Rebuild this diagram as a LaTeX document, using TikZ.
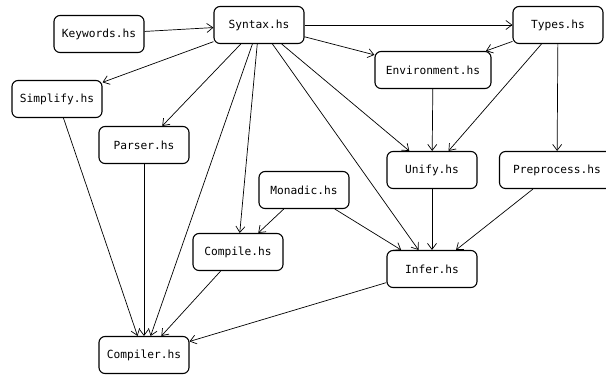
\documentclass[tikz,border=0pt]{standalone}
\usepackage{fontspec}
\setmonofont{DejaVu Sans Mono}
\usetikzlibrary{arrows.meta}

\begin{document}
\begin{tikzpicture}[x=1pt,y=-1pt,
  mod/.style={draw,line width=1.1pt,rounded corners=6pt,minimum width=90pt,minimum height=37pt,inner xsep=6pt,font=\ttfamily\fontsize{11.2}{13}\selectfont},
  dep/.style={-{Straight Barb[length=6pt,width=9pt]},line width=.7pt}]
\useasboundingbox (0,0) rectangle (606,376);
%
\node[mod] (key) at (99,34) {Keywords.hs};
\node[mod] (syn) at (259,25) {Syntax.hs};
\node[mod] (typ) at (558,25) {Types.hs};
\node[mod,minimum width=116pt] (env) at (433,70) {Environment.hs};
\node[mod] (sim) at (57,99) {Simplify.hs};
\node[mod] (par) at (144,145) {Parser.hs};
\node[mod] (uni) at (432,170) {Unify.hs};
\node[mod,minimum width=115pt] (pre) at (557,170) {Preprocess.hs};
\node[mod] (mon) at (304,190) {Monadic.hs};
\node[mod] (cpl) at (238,252) {Compile.hs};
\node[mod] (inf) at (432,269) {Infer.hs};
\node[mod] (cpr) at (144,355) {Compiler.hs};
%
\draw[dep] (key)--(syn);
\draw[dep] (syn)--(typ);
\draw[dep] (syn)--(env);
\draw[dep] (syn)--(sim);
\draw[dep] (syn)--(par);
\draw[dep] (syn)--(uni);
\draw[dep] (syn)--(inf);
\draw[dep] (syn)--(cpl);
\draw[dep] (syn)--(cpr);
\draw[dep] (typ)--(env);
\draw[dep] (typ)--(uni);
\draw[dep] (typ)--(pre);
\draw[dep] (env)--(uni);
\draw[dep] (sim)--(cpr);
\draw[dep] (par)--(cpr);
\draw[dep] (mon)--(cpl);
\draw[dep] (mon)--(inf);
\draw[dep] (uni)--(inf);
\draw[dep] (pre)--(inf);
\draw[dep] (cpl)--(cpr);
\draw[dep] (inf)--(cpr);
%
\end{tikzpicture}
\end{document}
